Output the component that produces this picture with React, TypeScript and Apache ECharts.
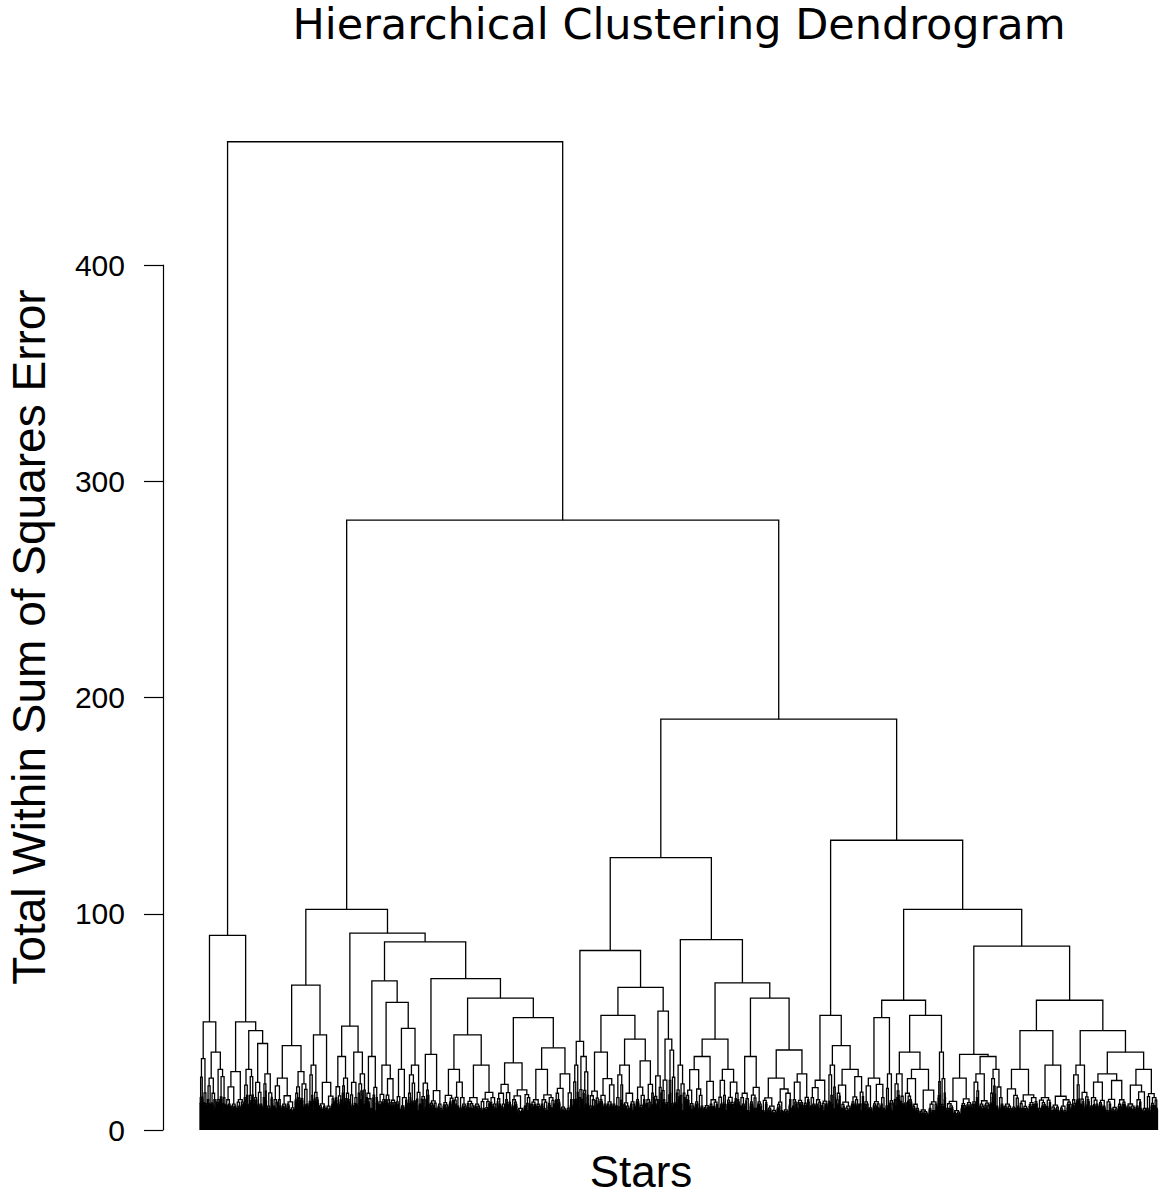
import React, { useEffect, useRef } from "react";
import * as echarts from "echarts";

// Merge heights (total within-cluster sum of squares) of the upper tree.
// Internal nodes are [height, left, right]; small leaf bundles are [topHeight, starCount].
const rootHeight = 457;
const rightBranchHeight = 282;
const middleBranchHeight = 102;
const eastBranchHeight = 190;

const clusterA = [90,
  [50, [33, 14], [36, [24, 18], [28, 20]]],
  [50, [27, 36], [46, [28, 20], [40, [22, 18], [26, 20]]]],
];

const clusterB1a = [67, [39, [24, 44], [27, 28]], [44, [30, 20], [22, 32]]];

const clusterB1b = [91,
  [48, [34, [20, 14], [24, 16]], [36, [22, 16], [26, 16]]],
  [87,
    [69, [34, 24], [59, [30, 36], [47, [28, 24], [30, 26]]]],
    [70, [35, 44], [61, [44, [28, 48], [30, 60]], [52, [31, 68], [38, [28, 48], [26, 36]]]]],
  ],
];

const clusterB2a = [126,
  [83, [41, [30, 12], [34, 20]], [66, [53, [36, 54], [42, [30, 40], [32, 36]]], [55, [25, 16], [42, 28]]]],
  [88, [30, 20], [68, [42, [34, 64], [28, 44]], [61, [34, 44], [37, [24, 60], [26, 36]]]]],
];

const clusterB2b = [134,
  [53, [23, 36], [39, [30, 16], [28, 56]]],
  [102,
    [60, [52, [24, 44], [26, 16]], [53, [36, [26, 20], [28, 68]], [36, 16]]],
    [85,
      [35, [24, 52], [34, [26, 36], [28, 28]]],
      [60, [46, [28, 68], [30, 68]], [46, [30, 36], [36, [26, 72], [28, 64]]]],
    ],
  ],
];

// Low-level structure inside each leaf bundle.
const bundleRatios = [0.74, 0.58, 0.82, 0.66, 0.5, 0.88, 0.62, 0.71, 0.55, 0.79, 0.68, 0.6, 0.85, 0.52];
const bundleSplits = [0.5, 0.38, 0.6, 0.45, 0.55, 0.33, 0.64, 0.48, 0.42, 0.57];
const pairHeights = [12, 15, 10, 14, 11, 17, 9, 13, 16, 10, 14, 12];

const yTicks = { min: 0, max: 400, step: 100 };

const TITLE = "Hierarchical Clustering Dendrogram";
const Y_NAME = "Total Within Sum of Squares Error";
const X_NAME = "Stars";

type Seg = [number, number, number, number, number];

function buildSegments(): Seg[] {
  const segs: Seg[] = [];
  let ri = 0;
  let si = 0;
  let pi = 0;

  const childHeight = (h: number) => {
    const r = bundleRatios[ri++ % bundleRatios.length];
    const floor = pairHeights[pi++ % pairHeights.length];
    return Math.min(Math.max(h * r, floor), h * 0.92);
  };

  const bundle = (h: number, n: number, start: number): { x: number; h: number } => {
    if (n <= 1) return { x: start, h: 0 };
    let k = 1;
    if (n > 2) {
      const s = bundleSplits[si++ % bundleSplits.length];
      k = Math.max(1, Math.min(n - 1, Math.round(n * s)));
    }
    const left = bundle(childHeight(h), k, start);
    const right = bundle(childHeight(h), n - k, start + k);
    segs.push([left.x, right.x, h, left.h, right.h]);
    return { x: (left.x + right.x) / 2, h };
  };

  const walk = (node: any, start: number): { x: number; h: number; n: number } => {
    if (node.length === 2) {
      const r = bundle(node[0], node[1], start);
      return { ...r, n: node[1] };
    }
    const left = walk(node[1], start);
    const right = walk(node[2], start + left.n);
    segs.push([left.x, right.x, node[0], left.h, right.h]);
    return { x: (left.x + right.x) / 2, h: node[0], n: left.n + right.n };
  };

  const tree = [rootHeight, clusterA,
    [rightBranchHeight,
      [middleBranchHeight, clusterB1a, clusterB1b],
      [eastBranchHeight, clusterB2a, clusterB2b]]];
  walk(tree, 0);
  return segs;
}

export default function App() {
  const ref = useRef<HTMLDivElement>(null);

  useEffect(() => {
    if (!ref.current) return;
    const chart = echarts.init(ref.current, null, { renderer: "svg" });
    const segs = buildSegments();

    chart.setOption({
      animation: false,
      backgroundColor: "#fff",
      grid: { left: 163, right: 0, top: 265, bottom: 69, containLabel: false },
      xAxis: { type: "value", min: -74, max: 1920, show: false },
      yAxis: {
        type: "value",
        min: yTicks.min,
        max: yTicks.max,
        interval: yTicks.step,
        axisLine: { show: true, onZero: false, lineStyle: { color: "#000", width: 1.2 } },
        axisTick: { show: true, length: 19, lineStyle: { color: "#000", width: 1.2 } },
        axisLabel: {
          color: "#000",
          fontSize: 30,
          fontFamily: "Liberation Sans, Arial, sans-serif",
          margin: 38,
        },
        splitLine: { show: false },
      },
      graphic: [
        {
          type: "text",
          x: 679,
          y: 24,
          style: {
            text: TITLE,
            font: "43px 'DejaVu Sans', sans-serif",
            fill: "#000",
            textAlign: "center",
            textVerticalAlign: "middle",
          },
        },
        {
          type: "text",
          x: 29,
          y: 637,
          rotation: Math.PI / 2,
          style: {
            text: Y_NAME,
            font: "46px 'Liberation Sans', Arial, sans-serif",
            fill: "#000",
            textAlign: "center",
            textVerticalAlign: "middle",
          },
        },
        {
          type: "text",
          x: 641,
          y: 1171,
          style: {
            text: X_NAME,
            font: "44px 'Liberation Sans', Arial, sans-serif",
            fill: "#000",
            textAlign: "center",
            textVerticalAlign: "middle",
          },
        },
      ],
      series: [
        {
          type: "custom",
          clip: false,
          data: segs,
          encode: { x: [0, 1], y: [2, 3, 4] },
          renderItem: (_params: any, api: any) => {
            const xl = api.value(0);
            const xr = api.value(1);
            const h = api.value(2);
            const hl = api.value(3);
            const hr = api.value(4);
            return {
              type: "polyline",
              shape: {
                points: [
                  api.coord([xl, hl]),
                  api.coord([xl, h]),
                  api.coord([xr, h]),
                  api.coord([xr, hr]),
                ],
              },
              style: { stroke: "#000", lineWidth: 1.3, fill: "none" },
              silent: true,
            };
          },
        },
      ],
    });

    return () => chart.dispose();
  }, []);

  return (
    <div
      ref={ref}
      style={{ position: "fixed", left: 0, top: 0, width: 1160, height: 1199, background: "#fff" }}
    />
  );
}
